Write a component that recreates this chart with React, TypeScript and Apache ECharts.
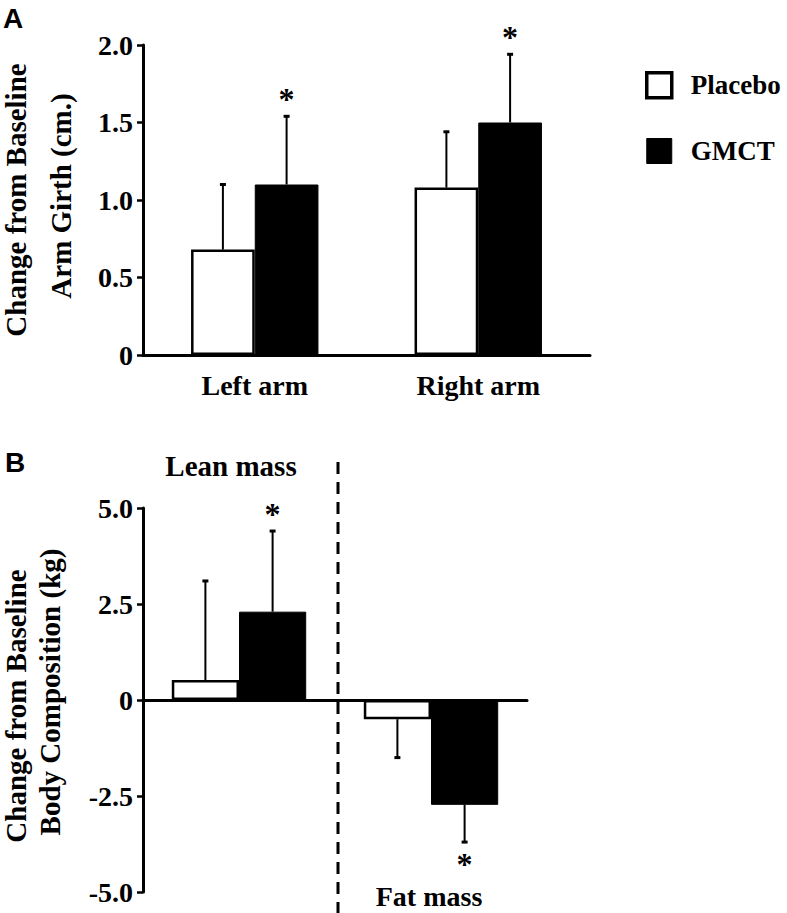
import React, { useEffect, useRef } from 'react';
import * as echarts from 'echarts';

// ---- Panel A: arm girth ----
const armCategories = ['Left arm', 'Right arm'];
const armPlacebo = [0.68, 1.08];
const armPlaceboErr = [0.42, 0.36];
const armGmct = [1.1, 1.5];
const armGmctErr = [0.44, 0.44];
const armGmctSig = [1, 1];
const armPlaceboSig = [0, 0];

// ---- Panel B: body composition ----
const bodyCategories = ['Lean mass', 'Fat mass'];
const bodyPlacebo = [0.52, -0.5];
const bodyPlaceboErr = [2.58, 1.0];
const bodyGmct = [2.3, -2.73];
const bodyGmctErr = [2.1, 0.97];
const bodyGmctSig = [1, 1];
const bodyPlaceboSig = [0, 0];

const seriesNames = ['Placebo', 'GMCT'];

const SERIF = "'Liberation Serif', 'Times New Roman', serif";
const SANS = "'Liberation Sans', Arial, sans-serif";

const ARM_GAP = 0.43;
const BODY_GAP = 0.3;

const fmt = (v: number) => (v === 0 ? '0' : v.toFixed(1));

function makeErr(gapFrac: number, side: number) {
  return (params: any, api: any) => {
    const cat = api.value(0);
    const v = api.value(1);
    const e = api.value(2);
    const sig = api.value(3);
    const band = api.size([1, 0])[0];
    const bw = (band * (1 - gapFrac)) / 2;
    const dir = v >= 0 ? 1 : -1;
    const p0 = api.coord([cat, v]);
    const p1 = api.coord([cat, v + dir * e]);
    const x = p0[0] + (side * bw) / 2;
    const children: any[] = [
      { type: 'line', shape: { x1: x, y1: p0[1], x2: x, y2: p1[1] }, style: { stroke: '#000', lineWidth: 2 } },
      { type: 'line', shape: { x1: x - 3, y1: p1[1], x2: x + 3, y2: p1[1] }, style: { stroke: '#000', lineWidth: 3 } },
    ];
    if (sig) {
      children.push({
        type: 'text',
        style: {
          text: '*',
          x,
          y: dir > 0 ? p1[1] - 17 : p1[1] + 22,
          textAlign: 'center',
          textVerticalAlign: 'middle',
          fill: '#000',
          font: `bold 32px ${SERIF}`,
        },
      });
    }
    return { type: 'group', children };
  };
}

const errData = (vals: number[], errs: number[], sig: number[]) =>
  vals.map((v, i) => [i, v, errs[i], sig[i]]);

export default function App() {
  const ref = useRef<HTMLDivElement>(null);
  useEffect(() => {
    if (!ref.current) return;
    const chart = echarts.init(ref.current, null, { renderer: 'svg' });
    const axisLine = { show: true, lineStyle: { color: '#000', width: 3 } };
    const yLabel = { color: '#000', fontFamily: SERIF, fontWeight: 'bold', fontSize: 28, margin: 10, formatter: fmt };
    const placeboStyle = { color: '#fff', borderColor: '#000', borderWidth: 2.5 };
    const gmctStyle = { color: '#000', borderColor: '#000', borderWidth: 1 };

    const baseGraphic: any[] = [
      { id: 'A', type: 'text', left: 3, top: 4, style: { text: 'A', font: `bold 28px ${SANS}`, fill: '#000' } },
      { id: 'B', type: 'text', left: 5, top: 448, style: { text: 'B', font: `bold 28px ${SANS}`, fill: '#000' } },
      { id: 'ya1', type: 'text', x: 16, y: 200, rotation: Math.PI / 2, style: { text: 'Change from Baseline', font: `bold 29px ${SERIF}`, fill: '#000', textAlign: 'center', textVerticalAlign: 'middle' } },
      { id: 'ya2', type: 'text', x: 61, y: 196, rotation: Math.PI / 2, style: { text: 'Arm Girth (cm.)', font: `bold 29px ${SERIF}`, fill: '#000', textAlign: 'center', textVerticalAlign: 'middle' } },
      { id: 'yb1', type: 'text', x: 16, y: 706, rotation: Math.PI / 2, style: { text: 'Change from Baseline', font: `bold 29px ${SERIF}`, fill: '#000', textAlign: 'center', textVerticalAlign: 'middle' } },
      { id: 'yb2', type: 'text', x: 50, y: 692, rotation: Math.PI / 2, style: { text: 'Body Composition (kg)', font: `bold 29px ${SERIF}`, fill: '#000', textAlign: 'center', textVerticalAlign: 'middle' } },
      { id: 'lean', type: 'text', x: 231, y: 466, style: { text: bodyCategories[0], font: `bold 29px ${SERIF}`, fill: '#000', textAlign: 'center', textVerticalAlign: 'middle' } },
      { id: 'fat', type: 'text', x: 429, y: 896, style: { text: bodyCategories[1], font: `bold 28px ${SERIF}`, fill: '#000', textAlign: 'center', textVerticalAlign: 'middle' } },
    ];

    const option: any = {
      animation: false,
      backgroundColor: '#fff',
      legend: {
        orient: 'vertical',
        left: 640,
        top: 66,
        itemWidth: 25,
        itemHeight: 25,
        itemGap: 38,
        icon: 'rect',
        textStyle: { color: '#000', fontFamily: SERIF, fontWeight: 'bold', fontSize: 27, padding: [0, 0, 0, 14] },
        data: [
          { name: seriesNames[0], itemStyle: { color: '#fff', borderColor: '#000', borderWidth: 3.5 } },
          { name: seriesNames[1], itemStyle: { color: '#000', borderColor: '#000', borderWidth: 1 } },
        ],
      },
      grid: [
        { left: 143, top: 45, width: 447, height: 310 },
        { left: 143, top: 508, width: 384, height: 384 },
      ],
      xAxis: [
        {
          type: 'category', gridIndex: 0, data: armCategories,
          axisLine, axisTick: { show: false },
          axisLabel: { color: '#000', fontFamily: SERIF, fontWeight: 'bold', fontSize: 28, margin: 16 },
        },
        {
          type: 'category', gridIndex: 1, data: bodyCategories,
          axisLine: { ...axisLine, onZero: true }, axisTick: { show: false }, axisLabel: { show: false },
        },
      ],
      yAxis: [
        {
          type: 'value', gridIndex: 0, min: 0, max: 2, interval: 0.5,
          axisLine, axisTick: { show: true, length: 6, lineStyle: { color: '#000', width: 2.5 } },
          axisLabel: yLabel, splitLine: { show: false },
        },
        {
          type: 'value', gridIndex: 1, min: -5, max: 5, interval: 2.5,
          axisLine: { ...axisLine, onZero: false }, axisTick: { show: true, length: 6, lineStyle: { color: '#000', width: 2.5 } },
          axisLabel: yLabel, splitLine: { show: false },
        },
      ],
      series: [
        { name: seriesNames[0], type: 'bar', xAxisIndex: 0, yAxisIndex: 0, data: armPlacebo, barGap: '0%', barCategoryGap: `${ARM_GAP * 100}%`, itemStyle: placeboStyle },
        { name: seriesNames[1], type: 'bar', xAxisIndex: 0, yAxisIndex: 0, data: armGmct, barGap: '0%', barCategoryGap: `${ARM_GAP * 100}%`, itemStyle: gmctStyle },
        { name: seriesNames[0], type: 'bar', xAxisIndex: 1, yAxisIndex: 1, data: bodyPlacebo, barGap: '0%', barCategoryGap: `${BODY_GAP * 100}%`, itemStyle: placeboStyle },
        { name: seriesNames[1], type: 'bar', xAxisIndex: 1, yAxisIndex: 1, data: bodyGmct, barGap: '0%', barCategoryGap: `${BODY_GAP * 100}%`, itemStyle: gmctStyle },
        { type: 'custom', xAxisIndex: 0, yAxisIndex: 0, renderItem: makeErr(ARM_GAP, -1), data: errData(armPlacebo, armPlaceboErr, armPlaceboSig), encode: { x: 0, y: 1 }, z: 5 },
        { type: 'custom', xAxisIndex: 0, yAxisIndex: 0, renderItem: makeErr(ARM_GAP, 1), data: errData(armGmct, armGmctErr, armGmctSig), encode: { x: 0, y: 1 }, z: 5 },
        { type: 'custom', xAxisIndex: 1, yAxisIndex: 1, renderItem: makeErr(BODY_GAP, -1), data: errData(bodyPlacebo, bodyPlaceboErr, bodyPlaceboSig), encode: { x: 0, y: 1 }, z: 5 },
        { type: 'custom', xAxisIndex: 1, yAxisIndex: 1, renderItem: makeErr(BODY_GAP, 1), data: errData(bodyGmct, bodyGmctErr, bodyGmctSig), encode: { x: 0, y: 1 }, z: 5 },
      ],
      graphic: baseGraphic,
    };
    chart.setOption(option);

    const c0 = chart.convertToPixel({ xAxisIndex: 1 } as any, bodyCategories[0]) as any as number;
    const c1 = chart.convertToPixel({ xAxisIndex: 1 } as any, bodyCategories[1]) as any as number;
    const bx = (c0 + c1) / 2 + 3;
    chart.setOption({
      graphic: [
        ...baseGraphic,
        { id: 'sep', type: 'line', shape: { x1: bx, y1: 462, x2: bx, y2: 913 }, style: { stroke: '#000', lineWidth: 3, lineDash: [12, 8] }, z: 10 },
      ],
    });

    return () => chart.dispose();
  }, []);
  return (
    <div
      ref={ref}
      style={{ position: 'absolute', left: 0, top: 0, width: 787, height: 913, background: '#fff' }}
    />
  );
}
